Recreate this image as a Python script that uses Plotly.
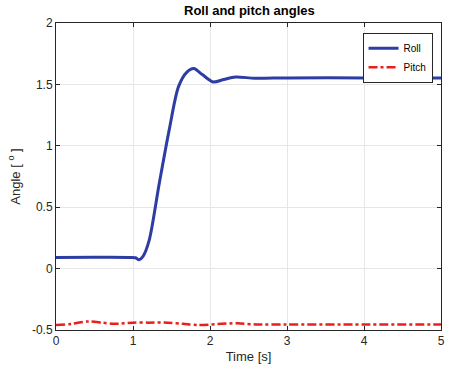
import plotly.graph_objects as go

t_roll = [0, 0.5, 0.95, 1.03, 1.08, 1.13, 1.21, 1.34, 1.47, 1.59, 1.7, 1.79, 1.9, 2.04, 2.18, 2.33, 2.58, 3, 4, 5]
roll = [0.09, 0.092, 0.09, 0.088, 0.073, 0.1, 0.23, 0.69, 1.13, 1.48, 1.6, 1.63, 1.58, 1.52, 1.54, 1.56, 1.55, 1.553, 1.553, 1.553]

t_pitch = [0, 0.2, 0.42, 0.6, 0.75, 1.0, 1.2, 1.45, 1.65, 1.85, 2.1, 2.35, 2.6, 3, 4, 5]
pitch = [-0.46, -0.45, -0.43, -0.44, -0.45, -0.44, -0.44, -0.44, -0.45, -0.46, -0.452, -0.445, -0.455, -0.455, -0.455, -0.455]

x_ticks = [0, 1, 2, 3, 4, 5]
y_ticks = [-0.5, 0, 0.5, 1, 1.5, 2]

fig = go.Figure()
fig.add_trace(go.Scatter(x=t_roll, y=roll, mode="lines", name="Roll",
                         line=dict(color="#2E3DA3", width=3, shape="spline", smoothing=0.8)))
fig.add_trace(go.Scatter(x=t_pitch, y=pitch, mode="lines", name="Pitch",
                         line=dict(color="#E8201C", width=2.5, dash="dashdot", shape="spline", smoothing=0.8)))

axis_common = dict(showline=True, linecolor="#262626", linewidth=1, mirror="ticks",
                   ticks="inside", ticklen=4, tickcolor="#262626",
                   showgrid=True, gridcolor="#E6E6E6", gridwidth=1, zeroline=False,
                   tickfont=dict(family="Liberation Sans, Arial", size=12, color="#262626"))

fig.update_layout(
    width=451, height=371,
    margin=dict(l=56, r=6, t=23, b=41),
    paper_bgcolor="white", plot_bgcolor="white",
    title=dict(text="<b>Roll and pitch angles</b>", x=0.553, xanchor="center", y=0.984, yanchor="top",
               font=dict(family="Liberation Sans, Arial", size=13, color="#000000")),
    xaxis=dict(range=[0, 5], tickvals=x_ticks, ticktext=[str(v) for v in x_ticks],
               title=dict(text="Time [s]", standoff=4,
                          font=dict(family="Liberation Sans, Arial", size=13, color="#262626")),
               **axis_common),
    yaxis=dict(range=[-0.5, 2], tickvals=y_ticks, ticktext=["-0.5", "0", "0.5", "1", "1.5", "2"],
               title=dict(text="Angle [ <sup>o</sup> ]", standoff=8,
                          font=dict(family="Liberation Sans, Arial", size=13, color="#262626")),
               **axis_common),
    legend=dict(x=0.978, y=0.968, xanchor="right", yanchor="top",
                bgcolor="white", bordercolor="#262626", borderwidth=1,
                font=dict(family="Liberation Sans, Arial", size=10, color="#000000"),
                tracegroupgap=0, itemwidth=30),
    showlegend=True,
)

fig.write_html("out.html")
